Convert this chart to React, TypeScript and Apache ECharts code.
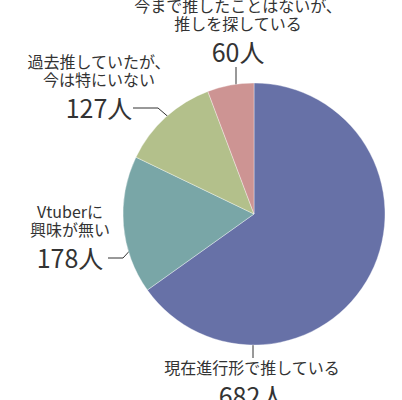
import React, { useEffect, useRef } from "react";
import * as echarts from "echarts";

const categories = [
  "現在進行形で推している",
  "Vtuberに\n興味が無い",
  "過去推していたが、\n今は特にいない",
  "今まで推したことはないが、\n推しを探している",
];
const values = [682, 178, 127, 60];
const colors = ["#6771a7", "#79a6a7", "#b3c08b", "#cd9493"];

export default function App() {
  const ref = useRef<HTMLDivElement>(null);
  useEffect(() => {
    document.body.style.margin = "0";
    const chart = echarts.init(ref.current!, null, { renderer: "svg" });
    const labelPos = [
      { x: 252, y: 386, line: [[253, 345], [253, 352], [253, 358]] },
      { x: 70, y: 239, line: [[135, 245], [123, 258], [108, 258]] },
      { x: 99, y: 89, line: [[172, 120], [158, 108], [133, 108]] },
      { x: 238, y: 33, line: [[236, 91], [236, 79], [236, 67]] },
    ];
    chart.setOption({
      animation: false,
      series: [
        {
          type: "pie",
          center: [254, 214],
          radius: 131,
          startAngle: 90,
          clockwise: true,
          avoidLabelOverlap: false,
          data: categories.map((c, i) => ({
            name: c,
            value: values[i],
            itemStyle: { color: colors[i] },
          })),
          itemStyle: { borderColor: "rgba(255,255,255,0.6)", borderWidth: 0.6 },
          label: {
            show: true,
            position: "outside",
            alignTo: "none",
            overflow: "none",
            width: 300,
            formatter: (p: any) => {
              const lines = String(p.name)
                .split("\n")
                .map((l: string) => `{n|${l}}`)
                .join("\n");
              return `${lines}\n{v|${p.value}人}`;
            },
            rich: {
              n: {
                fontFamily: "Noto Sans CJK JP",
                fontSize: 16,
                lineHeight: 18,
                color: "#333",
                align: "center",
              },
              v: {
                fontFamily: "Noto Sans CJK JP",
                fontSize: 25,
                lineHeight: 38,
                color: "#333",
                align: "center",
              },
            },
          },
          labelLine: {
            show: true,
            lineStyle: { color: "#333", width: 1 },
          },
          labelLayout: (p: any) => {
            const l = labelPos[p.dataIndex];
            return {
              x: l.x,
              y: l.y,
              align: "center",
              verticalAlign: "middle",
              hideOverlap: false,
              labelLinePoints: l.line,
            };
          },
        },
      ],
    });
    return () => chart.dispose();
  }, []);
  return (
    <div
      ref={ref}
      style={{ width: 402, height: 400, position: "absolute", left: 0, top: 0 }}
    />
  );
}
